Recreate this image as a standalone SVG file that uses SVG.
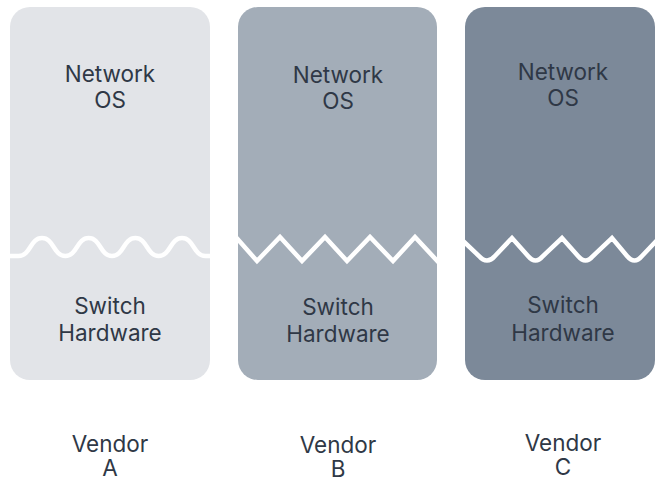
<svg xmlns="http://www.w3.org/2000/svg" width="656" height="480" viewBox="0 0 656 480">
<style>
.lbl{font-family:Inter,"Noto Sans","Liberation Sans",sans-serif;font-size:22.5px;fill:#2f3846;text-anchor:middle}
.cut{fill:none;stroke:#ffffff;stroke-width:4.5;stroke-linejoin:miter}
</style>
<rect width="656" height="480" fill="#ffffff"/>
<g id="vendorA">
<rect x="10" y="7" width="200" height="373" rx="20" fill="#e2e4e8"/>
<path class="cut" d="M6,256 H18.67 C30.67,256 30,238 42,238 C54,238 53.33,256 65.33,256 C77.33,256 76.67,238 88.67,238 C100.67,238 100,256 112,256 C124,256 123.33,238 135.33,238 C147.33,238 146.67,256 158.67,256 C170.67,256 170,238 182,238 C194,238 193.33,256 205.33,256 H214"/>
<text class="lbl" x="110" y="82">Network</text>
<text class="lbl" x="110" y="108">OS</text>
<text class="lbl" x="110" y="314">Switch</text>
<text class="lbl" x="110" y="341">Hardware</text>
<text class="lbl" x="110" y="452">Vendor</text>
<text class="lbl" x="110" y="476">A</text>
</g>
<g id="vendorB">
<rect x="238" y="7" width="199" height="373" rx="20" fill="#a3adb8"/>
<path class="cut" d="M234,235 L257,261 L280,237 L302,261 L325,237 L347,261 L370,237 L393,261 L415,237 L441,265"/>
<text class="lbl" x="338" y="83">Network</text>
<text class="lbl" x="338" y="109">OS</text>
<text class="lbl" x="338" y="315">Switch</text>
<text class="lbl" x="338" y="342">Hardware</text>
<text class="lbl" x="338" y="453">Vendor</text>
<text class="lbl" x="338" y="477">B</text>
</g>
<g id="vendorC">
<rect x="465" y="7" width="190" height="373" rx="20" fill="#7c8999"/>
<path class="cut" d="M461,239 L479,256 C484,262 490,262 495,256 L512,238 L528,256 C533,262 538,262 543,256 L562,238 L578,256 C583,262 588,262 593,256 L612,238 L627,256 C632,262 637,262 642,256 L660,237"/>
<text class="lbl" x="563" y="80">Network</text>
<text class="lbl" x="563" y="106">OS</text>
<text class="lbl" x="563" y="313">Switch</text>
<text class="lbl" x="563" y="341">Hardware</text>
<text class="lbl" x="563" y="451">Vendor</text>
<text class="lbl" x="563" y="475">C</text>
</g>
</svg>
